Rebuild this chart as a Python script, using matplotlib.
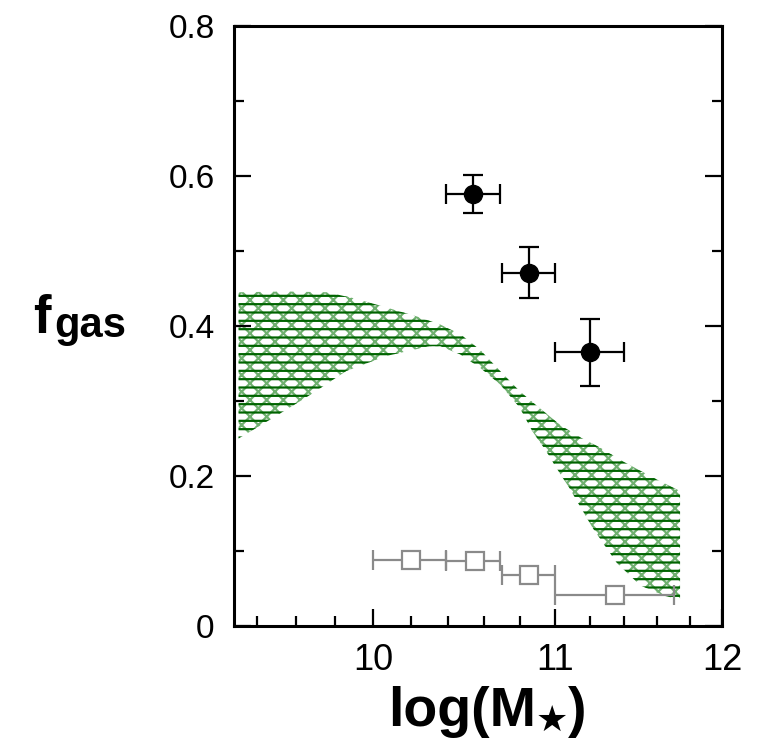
import numpy as np
import matplotlib
matplotlib.use('Agg')
import matplotlib.pyplot as plt
from matplotlib.ticker import MultipleLocator, FixedLocator, FixedFormatter

plt.rcParams['font.family'] = ['Liberation Sans', 'DejaVu Sans']
plt.rcParams['hatch.linewidth'] = 1.6

# observed points (filled circles)
obs_x = [10.54, 10.85, 11.20]
obs_y = [0.576, 0.471, 0.365]
obs_xerr = [0.15, 0.15, 0.20]
obs_yerr = [0.025, 0.034, 0.045]

# open squares with x ranges
sq_x = [10.20, 10.55, 10.85, 11.35]
sq_y = [0.088, 0.087, 0.068, 0.041]
sq_xlo = [10.00, 10.39, 10.70, 11.00]
sq_xhi = [10.39, 10.69, 11.00, 11.70]

# model band, upper and lower edges
band_up_x = [9.31, 9.55, 9.76, 9.90, 10.04, 10.23, 10.36, 10.47, 10.58, 10.69,
             10.80, 10.91, 11.03, 11.15, 11.26, 11.40, 11.61, 11.74]
band_up_y = [0.445, 0.446, 0.445, 0.437, 0.427, 0.413, 0.402, 0.389, 0.368, 0.340,
             0.313, 0.291, 0.268, 0.251, 0.238, 0.219, 0.194, 0.180]
band_lo_x = [9.31, 9.48, 9.66, 9.86, 10.07, 10.30, 10.36, 10.47, 10.58, 10.69,
             10.80, 10.87, 10.95, 11.01, 11.08, 11.22, 11.36, 11.50, 11.65, 11.74]
band_lo_y = [0.250, 0.277, 0.306, 0.340, 0.360, 0.373, 0.373, 0.362, 0.344, 0.322,
             0.291, 0.260, 0.233, 0.210, 0.185, 0.130, 0.084, 0.054, 0.040, 0.035]

x_major = [10, 11, 12]
y_major = [0, 0.2, 0.4, 0.6, 0.8]
y_labels = ['0', '0.2', '0.4', '0.6', '0.8']


# the original x axis is slightly compressed towards high masses
def fwd(x):
    u = np.asarray(x, dtype=float) - 10
    return 189.5 * u - 7.5 * u ** 2


def inv(p):
    p = np.asarray(p, dtype=float)
    d = np.clip(189.5 ** 2 - 30 * p, 0, None)
    return 10 + (189.5 - np.sqrt(d)) / 15


fig = plt.figure(figsize=(7.71, 7.41), dpi=100)
ax = fig.add_axes([0.3035, 0.1552, 0.633, 0.8097])
ax.set_xscale('function', functions=(fwd, inv))

# hatched band
poly_x = np.concatenate([band_up_x, band_lo_x[::-1]])
poly_y = np.concatenate([band_up_y, band_lo_y[::-1]])
ax.fill(poly_x, poly_y, facecolor='white', edgecolor='#6fb06f', hatch='xx', lw=0, zorder=1)
ax.fill(poly_x, poly_y, facecolor='none', edgecolor='#006400', hatch='--', lw=0, zorder=1)

ax.errorbar(sq_x, sq_y,
            xerr=[np.subtract(sq_x, sq_xlo), np.subtract(sq_xhi, sq_x)],
            fmt='s', ms=13.5, mfc='white', mec='#8a8a8a', mew=1.6,
            ecolor='#8a8a8a', elinewidth=1.6, capsize=7, capthick=1.6, zorder=3)

ax.errorbar(obs_x, obs_y, xerr=obs_xerr, yerr=obs_yerr,
            fmt='o', ms=13, color='black', elinewidth=1.6, capsize=7, capthick=1.6, zorder=4)

ax.set_xlim(9.287, 12.0)
ax.set_ylim(0, 0.8)
ax.xaxis.set_major_locator(FixedLocator(x_major))
ax.xaxis.set_major_formatter(FixedFormatter([str(v) for v in x_major]))
ax.xaxis.set_minor_locator(MultipleLocator(0.2))
ax.yaxis.set_major_locator(FixedLocator(y_major))
ax.yaxis.set_major_formatter(FixedFormatter(y_labels))
ax.yaxis.set_minor_locator(MultipleLocator(0.1))

ax.tick_params(which='both', direction='in', top=False, right=True, width=1.6)
ax.tick_params(which='major', length=12)
ax.tick_params(which='minor', length=7)
ax.tick_params(axis='x', labelsize=26, pad=12)
ax.tick_params(axis='y', labelsize=24, pad=14)
for s in ax.spines.values():
    s.set_linewidth(2.2)

# axis labels
fig.text(33 / 771, 1 - 333 / 741, 'f', fontsize=38, fontweight='bold', va='baseline')
fig.text(54 / 771, 1 - 337 / 741, 'gas', fontsize=30, fontweight='bold', va='baseline')

r = fig.canvas.get_renderer()
t1 = fig.text(388 / 771, 1 - 726 / 741, 'log(M', fontsize=40, fontweight='bold', va='baseline')
bb = t1.get_window_extent(r)
t2 = fig.text(bb.x1 / 771, 1 - 731 / 741, '\u2605', fontsize=26, va='baseline',
              family=['DejaVu Sans'])
bb2 = t2.get_window_extent(r)
fig.text(bb2.x1 / 771, 1 - 726 / 741, ')', fontsize=40, fontweight='bold', va='baseline')

fig.savefig('out.png', dpi=100)
